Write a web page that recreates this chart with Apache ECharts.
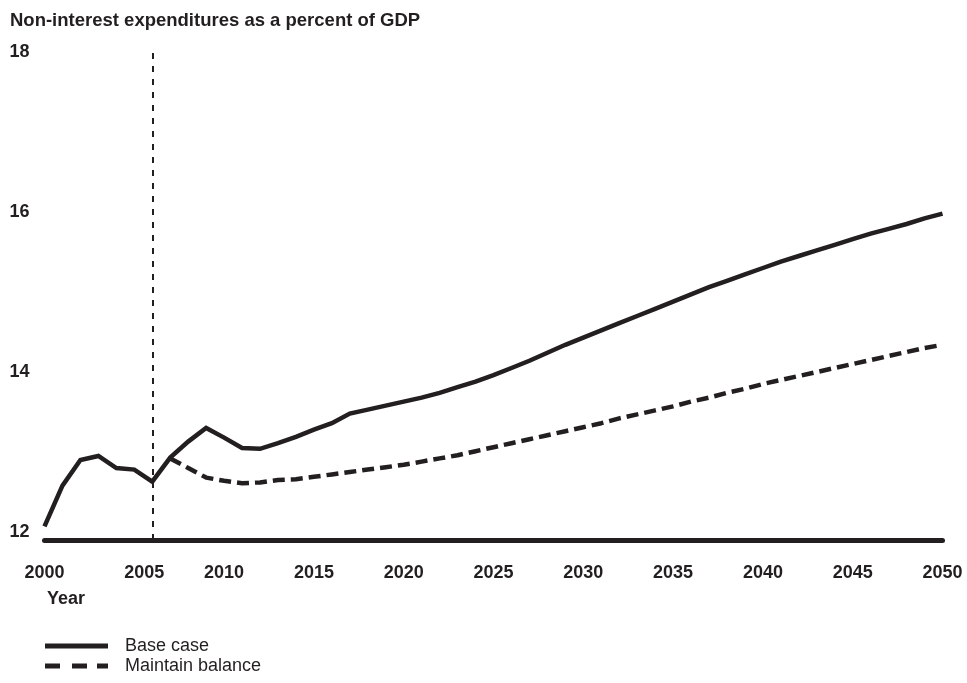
<!DOCTYPE html>
<html>
<head>
<meta charset="utf-8">
<script src="https://cdn.jsdelivr.net/npm/echarts@6/dist/echarts.min.js"></script>
<style>
html,body{margin:0;padding:0;background:#fff;}
#c{width:967px;height:683px;}
</style>
</head>
<body>
<div id="c"></div>
<script>
var titleText = 'Non-interest expenditures as a percent of GDP';
var xAxisTitle = 'Year';
var yTickValues = [12, 14, 16, 18];
var seriesNames = ['Base case', 'Maintain balance'];
var baseYears = [2000,2001,2002,2003,2004,2005,2006,2007,2008,2009,2010,2011,2012,2013,2014,2015,2016,2017,2018,2019,2020,2021,2022,2023,2024,2025,2026,2027,2028,2029,2030,2031,2032,2033,2034,2035,2036,2037,2038,2039,2040,2041,2042,2043,2044,2045,2046,2047,2048,2049,2050];
var baseCase = [12.07,12.58,12.90,12.95,12.80,12.78,12.63,12.93,13.13,13.30,13.18,13.05,13.04,13.11,13.19,13.28,13.36,13.48,13.53,13.58,13.63,13.68,13.74,13.81,13.88,13.96,14.05,14.14,14.24,14.34,14.43,14.52,14.61,14.70,14.79,14.88,14.97,15.06,15.14,15.22,15.30,15.38,15.45,15.52,15.59,15.66,15.73,15.79,15.85,15.92,15.98];
var balanceYears = [2007,2008,2009,2010,2011,2012,2013,2014,2015,2016,2017,2018,2019,2020,2021,2022,2023,2024,2025,2026,2027,2028,2029,2030,2031,2032,2033,2034,2035,2036,2037,2038,2039,2040,2041,2042,2043,2044,2045,2046,2047,2048,2049,2050];
var maintainBalance = [12.92,12.80,12.68,12.64,12.61,12.62,12.65,12.66,12.69,12.72,12.75,12.78,12.81,12.84,12.88,12.92,12.96,13.01,13.06,13.11,13.16,13.21,13.26,13.31,13.36,13.42,13.47,13.52,13.57,13.63,13.68,13.74,13.79,13.85,13.90,13.95,14.00,14.05,14.10,14.15,14.20,14.25,14.30,14.34];
var projectionStartYear = 2006;

var INK = '#231f20';
var FONT = '"Liberation Sans", Arial, Helvetica, sans-serif';

function pairs(xs, ys) {
  return xs.map(function (x, i) { return [x, ys[i]]; });
}

var chart = echarts.init(document.getElementById('c'), null, {renderer: 'canvas'});
chart.setOption({
  animation: false,
  backgroundColor: '#ffffff',
  textStyle: {fontFamily: FONT, color: INK},
  grid: {left: 44.5, right: 24.5, top: 52, bottom: 143, outerBoundsMode: 'none', containLabel: false},
  graphic: [
    {type: 'text', left: 10, top: 11, style: {text: titleText, font: 'bold 18.5px ' + FONT, fill: INK}},
    {type: 'text', left: 47, top: 590, style: {text: xAxisTitle, font: 'bold 18px ' + FONT, fill: INK}}
  ],
  legend: {
    orient: 'vertical',
    left: 45,
    top: 637,
    padding: 0,
    itemWidth: 63,
    itemHeight: 5,
    itemGap: 2,
    selectedMode: false,
    itemStyle: {color: INK, borderWidth: 0},
    textStyle: {fontFamily: FONT, fontSize: 18, lineHeight: 18, color: INK, padding: [0, 0, 0, 12]},
    data: [
      {name: seriesNames[0], icon: 'path://M0,0H63V5H0Z'},
      {name: seriesNames[1], icon: 'path://M0,0H15V5H0Z M27,0H42V5H27Z M52,0H63V5H52Z'}
    ]
  },
  xAxis: {
    type: 'value',
    min: 2000,
    max: 2050,
    interval: 5,
    splitLine: {show: false},
    axisTick: {show: false},
    axisLine: {show: true, onZero: false, lineStyle: {color: INK, width: 5}},
    axisLabel: {
      margin: 24,
      fontFamily: FONT,
      fontSize: 18,
      fontWeight: 'bold',
      color: INK,
      showMinLabel: true,
      showMaxLabel: true,
      formatter: function (v) { return v === 2005 ? '{s|' + v + '}' : '{n|' + v + '}'; },
      rich: {
        s: {fontFamily: FONT, fontSize: 18, fontWeight: 'bold', color: INK, padding: [0, 0, 0, 20]},
        n: {fontFamily: FONT, fontSize: 18, fontWeight: 'bold', color: INK}
      }
    }
  },
  yAxis: {
    type: 'value',
    min: 11.9,
    max: 18,
    splitLine: {show: false},
    axisLine: {show: false},
    axisTick: {show: false},
    axisLabel: {
      customValues: yTickValues,
      margin: 15,
      fontFamily: FONT,
      fontSize: 18,
      fontWeight: 'bold',
      color: INK,
      align: 'right'
    }
  },
  series: [
    {
      name: seriesNames[0],
      type: 'line',
      data: pairs(baseYears, baseCase),
      symbol: 'none',
      showSymbol: false,
      lineStyle: {color: INK, width: 4.5, type: 'solid', cap: 'butt', join: 'miter'},
      itemStyle: {color: INK},
      z: 3,
      markLine: {
        silent: true,
        symbol: ['none', 'none'],
        label: {show: false},
        lineStyle: {color: INK, width: 2, type: [6, 7]},
        data: [{xAxis: projectionStartYear}]
      }
    },
    {
      name: seriesNames[1],
      type: 'line',
      data: pairs(balanceYears, maintainBalance),
      symbol: 'none',
      showSymbol: false,
      lineStyle: {color: INK, width: 4.5, type: [12, 6], cap: 'butt'},
      itemStyle: {color: INK},
      z: 2
    }
  ]
});
</script>
</body>
</html>
